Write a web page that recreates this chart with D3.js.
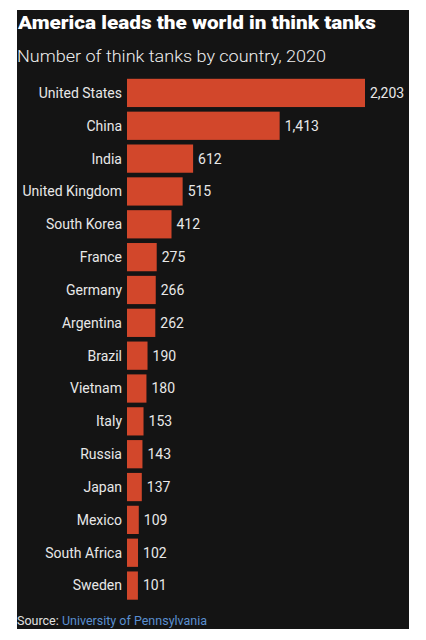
<!DOCTYPE html>
<html><head><meta charset="utf-8">
<script src="https://cdn.jsdelivr.net/npm/d3@7"></script>
<style>body{margin:0;background:#fff;font-family:"Open Sans","Liberation Sans",sans-serif}</style>
</head><body><svg id="c" width="426" height="640"></svg>
<script>
const countries=["United States","China","India","United Kingdom","South Korea","France","Germany","Argentina","Brazil","Vietnam","Italy","Russia","Japan","Mexico","South Africa","Sweden"];
const counts=[2203,1413,612,515,412,275,266,262,190,180,153,143,137,109,102,101];
const data=countries.map((c,i)=>({c,v:counts[i]}));
const svg=d3.select("#c");
svg.append("rect").attr("x",17).attr("y",10).attr("width",392).attr("height",619).attr("fill","#141414");
svg.append("text").attr("x",18).attr("y",29).attr("fill","#fff").attr("font-size",18).attr("font-weight",900).attr("font-family","Roboto, sans-serif").attr("textLength",358).attr("lengthAdjust","spacingAndGlyphs").text("America leads the world in think tanks");
svg.append("text").attr("x",17).attr("y",62).attr("fill","#eee").attr("font-size",17).attr("font-weight",300).attr("font-family","Roboto, sans-serif").attr("textLength",309).attr("lengthAdjust","spacingAndGlyphs").text("Number of think tanks by country, 2020");
const x=d3.scaleLinear().domain([0,2203]).range([127,365]);
const y=d3.scaleBand().domain(countries).range([76.5,602]).paddingInner(0.14).paddingOuter(0.07);
const g=svg.append("g").attr("font-family","Roboto, sans-serif").attr("font-size",14);
g.selectAll("rect.b").data(data).join("rect").attr("class","b").attr("x",x(0)).attr("y",d=>y(d.c)).attr("width",d=>x(d.v)-x(0)).attr("height",y.bandwidth()).attr("fill","#d2472b");
g.selectAll("text.l").data(data).join("text").attr("class","l").attr("x",x(0)-5).attr("y",d=>y(d.c)+y.bandwidth()/2).attr("dy","0.35em").attr("text-anchor","end").attr("fill","#e8e8e8").text(d=>d.c);
g.selectAll("text.v").data(data).join("text").attr("class","v").attr("x",d=>x(d.v)+5).attr("y",d=>y(d.c)+y.bandwidth()/2).attr("dy","0.35em").attr("fill","#e8e8e8").text(d=>d3.format(",")(d.v));
const s=svg.append("text").attr("x",17).attr("y",625).attr("font-size",12.5).attr("font-family","Roboto, sans-serif");
s.append("tspan").attr("fill","#e0e0e0").text("Source: ");
s.append("tspan").attr("fill","#5a8fd0").text("University of Pennsylvania");
</script></body></html>
